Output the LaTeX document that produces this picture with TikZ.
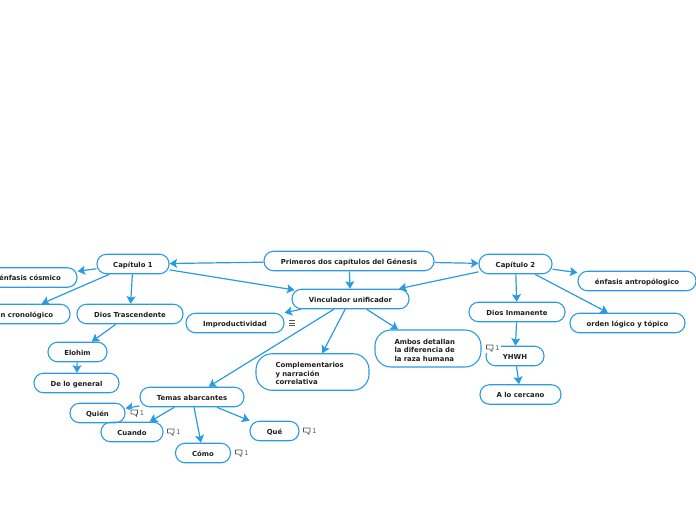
\documentclass[tikz,border=0pt]{standalone}
\usepackage{fontspec}
\setmainfont{DejaVu Sans}
\usetikzlibrary{arrows.meta}
\definecolor{mapblue}{HTML}{2A9BE3}
\definecolor{mapink}{HTML}{1E1E1E}
\definecolor{markgray}{HTML}{555555}
\tikzset{
    topic/.style={draw=mapblue, line width=1.1pt, rounded corners=9.5pt, minimum height=19.5pt, inner sep=0pt,
        align=center, text=mapink, text height=6.8pt, text depth=0pt, font=\fontsize{6.9}{8.5}\selectfont\bfseries},
    bigtopic/.style={draw=mapblue, line width=1.1pt, rounded corners=16pt, inner sep=0pt,
        align=left, text=mapink, font=\fontsize{6.9}{8.5}\selectfont\bfseries},
    link/.style={->, draw=mapblue, line width=1.2pt},
    bubble/.style={draw=markgray, line width=0.6pt, line join=round},
    marktext/.style={text=markgray, inner sep=0pt, font=\fontsize{6.5}{7}\selectfont},
}
% globo de comentario con su contador
\newcommand{\remark}[3]{
    \fill[white] (#2-4,#3-4.5) rectangle (#2+11,#3+5);
    \node[marktext] (#1) at (#2+8,#3) {1};
    \draw[bubble] (#2-3,#3-3) -- (#2+3.5,#3-3) -- (#2+3.5,#3+1) -- (#2+2.5,#3+1) -- (#2+2.5,#3+3.5) -- (#2,#3+1) -- (#2-3,#3+1) -- cycle;
}
\begin{document}
\begin{tikzpicture}[x=1pt, y=-1pt, >={Stealth[length=7.5pt,width=9pt,inset=1.5pt]}]
    \useasboundingbox (0,0) rectangle (696,520);

    % nivel central
    \node[topic, minimum width=170pt] (primeros) at (349,261) {Primeros dos capítulos del Génesis};
    \node[topic, minimum width=72pt] (cap1) at (133,264) {Capítulo 1};
    \node[topic, minimum width=73pt] (cap2) at (515.5,264) {Capítulo 2};
    \node[topic, minimum width=117pt] (vinculador) at (350.5,299) {Vinculador unificador};

    % rama del capítulo 1
    \node[topic, minimum width=94pt] (cosmico) at (30,277.5) {énfasis cósmico};
    \node[topic, minimum width=104pt] (cronologico) at (18,314) {orden cronológico};
    \node[topic, minimum width=106pt] (trascendente) at (130,314) {Dios Trascendente};
    \node[topic, minimum width=59pt] (elohim) at (77.5,352) {Elohim};
    \node[topic, minimum width=85pt] (general) at (76.5,383) {De lo general};

    % rama del vinculador
    \node[topic, minimum width=98pt] (improductividad) at (235,323) {Improductividad};
    \node[bigtopic, minimum width=113pt, minimum height=36.5pt, text width=74pt] (complementarios) at (312.5,372)
        {\rule{0pt}{8.5pt}Complementarios\\y narración\\correlativa};
    \node[bigtopic, minimum width=106pt, minimum height=37pt, text width=67pt] (ambos) at (428,348.5)
        {\rule{0pt}{8.5pt}Ambos detallan\\la diferencia de\\la raza humana};
    \node[topic, minimum width=104pt] (temas) at (192,397) {Temas abarcantes};
    \node[topic, minimum width=55pt] (quien) at (97.5,413) {Quién};
    \node[topic, minimum width=62pt] (cuando) at (132,432) {Cuando};
    \node[topic, minimum width=55pt] (como) at (203,453) {Cómo};
    \node[topic, minimum width=49pt] (que) at (274.5,431) {Qué};

    % rama del capítulo 2
    \node[topic, minimum width=96pt] (inmanente) at (517,312) {Dios Inmanente};
    \node[topic, minimum width=58pt] (yhwh) at (515,356) {YHWH};
    \node[topic, minimum width=81pt] (cercano) at (520.5,394.5) {A lo cercano};
    \node[topic, minimum width=118pt] (antropologico) at (637,281) {énfasis antropólogico};
    \node[topic, minimum width=115pt] (topico) at (627.5,323) {orden lógico y tópico};

    % conexiones
    \draw[link] (primeros) -- (cap1);
    \draw[link] (primeros) -- (cap2);
    \draw[link] (primeros) -- (vinculador);
    \draw[link, shorten >=-3pt] (cap1) -- (vinculador);
    \draw[link] (cap2) -- (vinculador);
    \draw[link] (cap1) -- (cosmico);
    \draw[link] (cap1) -- (cronologico);
    \draw[link] (cap1) -- (trascendente);
    \draw[link] (trascendente) -- (elohim);
    \draw[link] (elohim) -- (general);
    \draw[link] (vinculador) -- (improductividad);
    \draw[link] (vinculador) -- (complementarios);
    \draw[link] (vinculador) -- (ambos);
    \draw[link] (vinculador) -- (temas);
    \draw[link] (temas) -- (quien);
    \draw[link] (temas) -- (cuando);
    \draw[link] (temas) -- (como);
    \draw[link] (temas) -- (que);
    \draw[link] (cap2) -- (inmanente);
    \draw[link] (cap2) -- (antropologico);
    \draw[link] (cap2) -- (topico);
    \draw[link] (inmanente) -- (yhwh);
    \draw[link] (yhwh) -- (cercano);

    % marcas
    \foreach \y in {320.5,323,325.5} {
        \draw[markgray, line width=0.6pt] (289,\y) -- (295,\y);
    }
    \remark{mquien}{134}{413}
    \remark{mcuando}{170.5}{432}
    \remark{mcomo}{238.5}{453}
    \remark{mque}{306.5}{431}
    \remark{myhwh}{489.5}{348}
\end{tikzpicture}
\end{document}
